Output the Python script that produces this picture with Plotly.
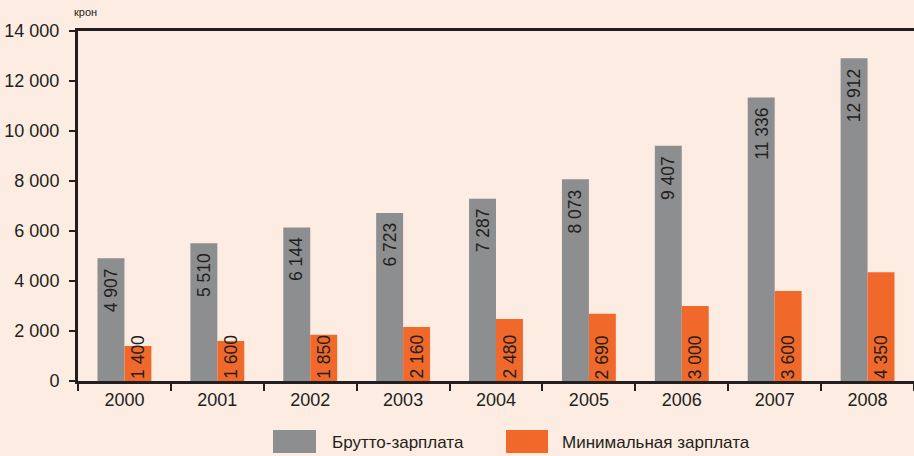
import plotly.graph_objects as go

years = ["2000", "2001", "2002", "2003", "2004", "2005", "2006", "2007", "2008"]
gross = [4907, 5510, 6144, 6723, 7287, 8073, 9407, 11336, 12912]
minimum = [1400, 1600, 1850, 2160, 2480, 2690, 3000, 3600, 4350]
series_names = ["Брутто-зарплата", "Минимальная зарплата"]
unit_label = "крон"
y_ticks = [0, 2000, 4000, 6000, 8000, 10000, 12000, 14000]

GRAY = "#8c8e90"
ORANGE = "#f0692b"
BG = "#fdece1"
TXT = "#231f20"
FONT = "Liberation Sans, Arial, sans-serif"

L, T, R, B = 78, 31, 0, 75
W, H = 914, 456
PW, PH = W - L - R, H - T - B


def fmt(v):
    return f"{v:,}".replace(",", " ")


fig = go.Figure()
fig.add_trace(go.Bar(x=years, y=gross, name=series_names[0], marker_color=GRAY,
                     marker_line_width=0, showlegend=False))
fig.add_trace(go.Bar(x=years, y=minimum, name=series_names[1], marker_color=ORANGE,
                     marker_line_width=0, showlegend=False))

annotations = []
for i, (g, m) in enumerate(zip(gross, minimum)):
    annotations.append(dict(x=i, y=g, xref="x", yref="y", text=fmt(g), textangle=-90,
                            showarrow=False, xanchor="center", yanchor="top",
                            xshift=-13.5, yshift=-8,
                            font=dict(family=FONT, size=17.5, color=TXT)))
    annotations.append(dict(x=i, y=0, xref="x", yref="y", text=fmt(m), textangle=-90,
                            showarrow=False, xanchor="center", yanchor="bottom",
                            xshift=13.5, yshift=0,
                            font=dict(family=FONT, size=17.5, color=TXT)))

annotations.append(dict(x=(72 - L) / PW, y=1 + (T - 12) / PH, xref="paper", yref="paper",
                        text=unit_label, showarrow=False, xanchor="left", yanchor="middle",
                        font=dict(family=FONT, size=11, color=TXT)))

shapes = []
legend_items = [(series_names[0], GRAY, 273, 316, 330), (series_names[1], ORANGE, 506, 548, 560)]
for name, col, x0, x1, tx in legend_items:
    shapes.append(dict(type="rect", xref="paper", yref="paper",
                       x0=(x0 - L) / PW, x1=(x1 - L) / PW,
                       y0=-(430 - (T + PH)) / PH, y1=-(453 - (T + PH)) / PH,
                       fillcolor=col, line_width=0))
    annotations.append(dict(x=(tx - L) / PW, y=-(442 - (T + PH)) / PH, xref="paper", yref="paper",
                            text=name, showarrow=False, xanchor="left", yanchor="middle",
                            font=dict(family=FONT, size=17, color=TXT)))

fig.update_layout(
    width=W, height=H,
    margin=dict(l=L, r=R, t=T, b=B, pad=0),
    paper_bgcolor=BG, plot_bgcolor=BG,
    barmode="group", bargap=0.42, bargroupgap=0,
    separators=". ",
    font=dict(family=FONT, size=17, color=TXT),
    xaxis=dict(type="category", range=[-0.5, len(years) - 0.5],
               showline=True, linecolor=TXT, linewidth=3, mirror=True,
               ticks="outside", tickson="boundaries", ticklen=7, tickwidth=2,
               tickcolor=TXT, showgrid=False, zeroline=False, tickangle=0,
               tickfont=dict(family=FONT, size=18, color=TXT)),
    yaxis=dict(range=[0, 14000], tickvals=y_ticks, tickformat=",d",
               showline=True, linecolor=TXT, linewidth=3,
               ticks="outside", ticklen=6, tickwidth=2, tickcolor=TXT,
               showgrid=False, zeroline=False, ticklabelstandoff=6,
               tickfont=dict(family=FONT, size=18, color=TXT)),
    showlegend=False,
    annotations=annotations,
    shapes=shapes,
)

fig.write_html("out.html", config={"displayModeBar": False},
               post_script="document.body.style.margin='0';document.body.style.overflow='hidden';")
